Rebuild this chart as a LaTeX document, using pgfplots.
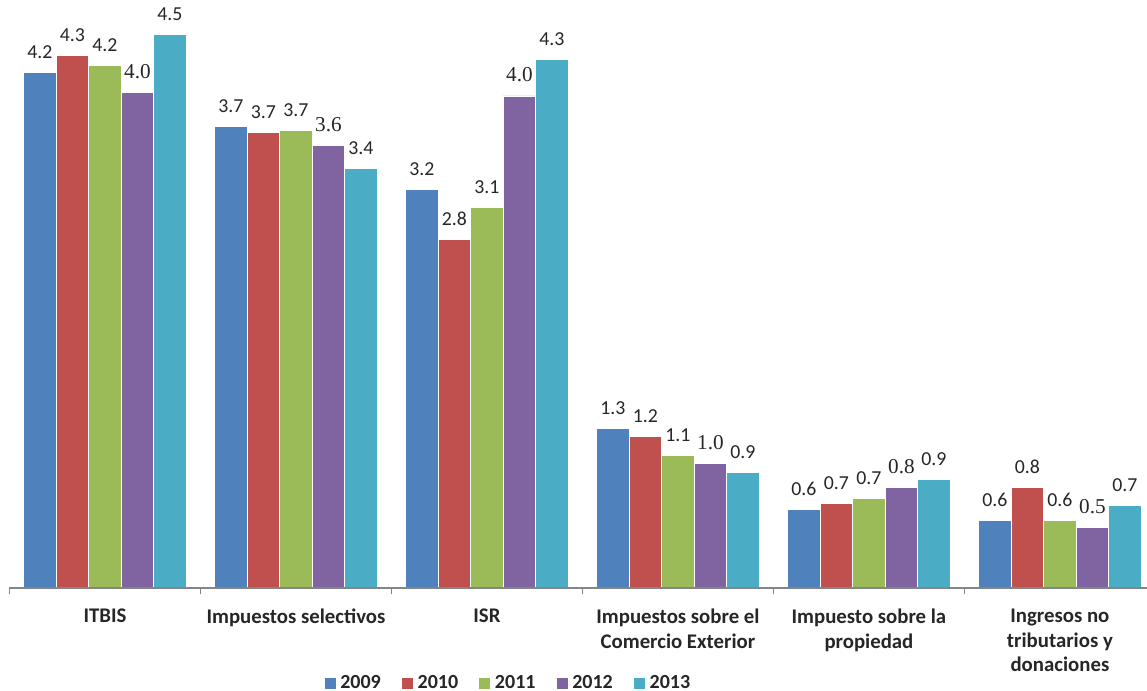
\documentclass[border=0pt]{standalone}
\usepackage{pgfplots}
\usepackage{pgfplotstable}
\pgfplotsset{compat=1.18}
\usepackage{fontspec}
\setmainfont{Carlito}
\newfontfamily\serifnum{Liberation Serif}
\definecolor{c09}{HTML}{4F81BD}
\definecolor{c10}{HTML}{C0504D}
\definecolor{c11}{HTML}{9BBB59}
\definecolor{c12}{HTML}{8064A2}
\definecolor{c13}{HTML}{4BACC6}
\pgfplotstableread{
x a09  l09 a10  l10 a11  l11 a12  l12 a13  l13
0 4.19 4.2 4.33 4.3 4.25 4.2 4.03 4.0 4.50 4.5
1 3.75 3.7 3.70 3.7 3.72 3.7 3.60 3.6 3.41 3.4
2 3.24 3.2 2.83 2.8 3.09 3.1 4.00 4.0 4.30 4.3
3 1.30 1.3 1.23 1.2 1.08 1.1 1.01 1.0 0.94 0.9
4 0.64 0.6 0.69 0.7 0.73 0.7 0.82 0.8 0.88 0.9
5 0.55 0.6 0.82 0.8 0.55 0.6 0.49 0.5 0.67 0.7
}\data
\begin{document}
\begin{tikzpicture}
\begin{axis}[
  name=ax,
  scale only axis,
  width=568.8pt, height=294pt,
  ybar=0pt, bar width=16.25pt,
  xmin=-0.5, xmax=5.456, ymin=0, ymax=4.78,
  enlargelimits=false, clip=false,
  axis on top,
  axis x line=bottom, axis y line=none,
  x axis line style={-, draw=black!48, line width=0.75pt},
  ytick=\empty,
  xtick={0,1,2,3,4,5},
  xticklabels={ITBIS,Impuestos selectivos,ISR,Impuestos sobre el\\Comercio Exterior,Impuesto sobre la\\propiedad,Ingresos no\\tributarios y\\donaciones},
  major tick length=0pt,
  extra x ticks={-0.5,0.5,1.5,2.5,3.5,4.5},
  extra x tick labels={},
  extra x tick style={major tick length=3.2pt, tick align=outside, tick style={draw=black!48, line width=0.75pt}},
  xticklabel style={font=\fontsize{10.4}{12.25}\selectfont\bfseries, align=center, anchor=north, inner sep=0pt, yshift=-10.5pt, text=black!85},
  point meta=explicit symbolic,
  nodes near coords,
  every node near coord/.append style={anchor=base, yshift=7pt, inner sep=0pt, font=\fontsize{9.9}{12}\selectfont, text=black!85},
  legend columns=-1,
  legend style={at={(0.439,-0.1616)}, anchor=center, draw=none, fill=none, inner sep=0pt,
    font=\fontsize{10}{12}\selectfont\bfseries, text=black!85,
    /tikz/every even column/.append style={column sep=8pt}},
  legend image code/.code={\fill[#1] (0pt,-3pt) rectangle (6pt,3pt);},
]
\addplot[fill=c09, draw=white, line width=0.4pt] table[x=x, y=a09, meta=l09]{\data};
\addplot[fill=c10, draw=white, line width=0.4pt] table[x=x, y=a10, meta=l10]{\data};
\addplot[fill=c11, draw=white, line width=0.4pt] table[x=x, y=a11, meta=l11]{\data};
\addplot[fill=c12, draw=white, line width=0.4pt, every node near coord/.append style={font=\serifnum\fontsize{10.6}{12}\selectfont}] table[x=x, y=a12, meta=l12]{\data};
\addplot[fill=c13, draw=white, line width=0.4pt] table[x=x, y=a13, meta=l13]{\data};
\legend{2009,2010,2011,2012,2013}
\end{axis}
\pgfresetboundingbox
\path[use as bounding box] ([xshift=-4.75pt,yshift=-51.5pt]ax.south west) rectangle (ax.north east);
\end{tikzpicture}
\end{document}
